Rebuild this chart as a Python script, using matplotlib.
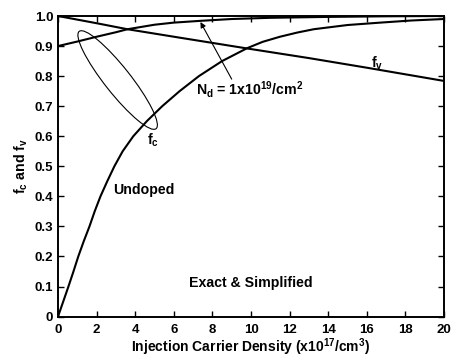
import matplotlib
matplotlib.use("Agg")
import matplotlib.pyplot as plt
from matplotlib.patches import Ellipse
import matplotlib.transforms as mtransforms

plt.rcParams['font.family'] = ['Liberation Sans', 'DejaVu Sans']
plt.rcParams['font.weight'] = 'bold'
plt.rcParams['mathtext.fontset'] = 'custom'
plt.rcParams['mathtext.rm'] = 'Liberation Sans:bold'
plt.rcParams['mathtext.it'] = 'Liberation Sans:bold'
plt.rcParams['mathtext.bf'] = 'Liberation Sans:bold'

# Undoped f_c
x_undoped = [0, 0.27, 0.54, 0.8, 1.05, 1.33, 1.63, 1.9, 2.2, 2.55, 2.92, 3.35, 3.9,
             4.6, 5.4, 6.3, 7.3, 8.5, 9.8, 10.6, 11.5, 12.4, 13.25, 15.0, 16.7,
             18.3, 20]
fc_undoped = [0, 0.05, 0.1, 0.15, 0.2, 0.25, 0.3, 0.35, 0.4, 0.45, 0.5, 0.55, 0.6,
              0.65, 0.7, 0.75, 0.8, 0.85, 0.893, 0.914, 0.931, 0.945, 0.956, 0.97,
              0.978, 0.985, 0.99]

# Doped (Nd = 1e19/cm^2) f_c
x_doped = [0, 1, 2, 3, 3.6, 5, 6, 7.4, 9, 11, 14, 17, 20]
fc_doped = [0.9, 0.915, 0.931, 0.946, 0.956, 0.971, 0.978, 0.984, 0.99, 0.994,
            0.997, 0.999, 1.0]

# f_v
x_fv = [0, 2, 3.6, 6.3, 9.8, 13, 16, 20]
fv = [1.0, 0.976, 0.956, 0.928, 0.892, 0.86, 0.828, 0.784]

xticks = [0, 2, 4, 6, 8, 10, 12, 14, 16, 18, 20]
yticks = [0, 0.1, 0.2, 0.3, 0.4, 0.5, 0.6, 0.7, 0.8, 0.9, 1.0]
ytick_labels = ['0', '0.1', '0.2', '0.3', '0.4', '0.5', '0.6', '0.7', '0.8', '0.9', '1.0']

fig = plt.figure(figsize=(4.51, 3.58), dpi=100)
ax = fig.add_axes([0.1286, 0.1156, 0.8559, 0.8397])

lw = 1.5
ax.plot(x_undoped, fc_undoped, color='black', lw=lw)
ax.plot(x_doped, fc_doped, color='black', lw=lw)
ax.plot(x_fv, fv, color='black', lw=lw)

ax.set_xlim(0, 20)
ax.set_ylim(0, 1.0)
ax.set_xticks(xticks)
ax.set_yticks(yticks)
ax.set_yticklabels(ytick_labels)
ax.tick_params(direction='in', length=4, width=1, top=True, right=True,
               labelsize=9.5)
ax.tick_params(axis='x', pad=5)
ax.tick_params(axis='y', pad=3.5)
for s in ax.spines.values():
    s.set_linewidth(1.4)

fs = 10.2
ax.set_xlabel('Injection Carrier Density (x10$^{17}$/cm$^{3}$)', fontsize=10,
              fontweight='bold', labelpad=0.5)
ax.set_ylabel('f$_c$ and f$_v$', fontsize=fs, fontweight='bold', labelpad=3)

# Ellipse grouping f_c curves
trans = fig.dpi_scale_trans + mtransforms.ScaledTranslation(3.09, 0.787, ax.transData)
ell = Ellipse((0, 0), width=1.24, height=0.26, angle=-51.7, fill=False,
              edgecolor='black', lw=0.8, transform=trans)
ax.add_patch(ell)

ax.text(4.9, 0.585, 'f$_c$', fontsize=fs, ha='center', va='center')
ax.text(16.55, 0.842, 'f$_v$', fontsize=fs, ha='center', va='center')
ax.text(7.15, 0.756, 'N$_d$ = 1x10$^{19}$/cm$^2$', fontsize=fs, ha='left', va='center')
ax.annotate('', xy=(7.38, 0.98), xytext=(9.0, 0.79),
            arrowprops=dict(arrowstyle='-|>', color='black', lw=0.8,
                            mutation_scale=8, shrinkA=0, shrinkB=0))
ax.text(2.86, 0.422, 'Undoped', fontsize=fs, ha='left', va='center')
ax.text(9.97, 0.111, 'Exact & Simplified', fontsize=fs, ha='center', va='center')

fig.savefig('out.png', dpi=100)
